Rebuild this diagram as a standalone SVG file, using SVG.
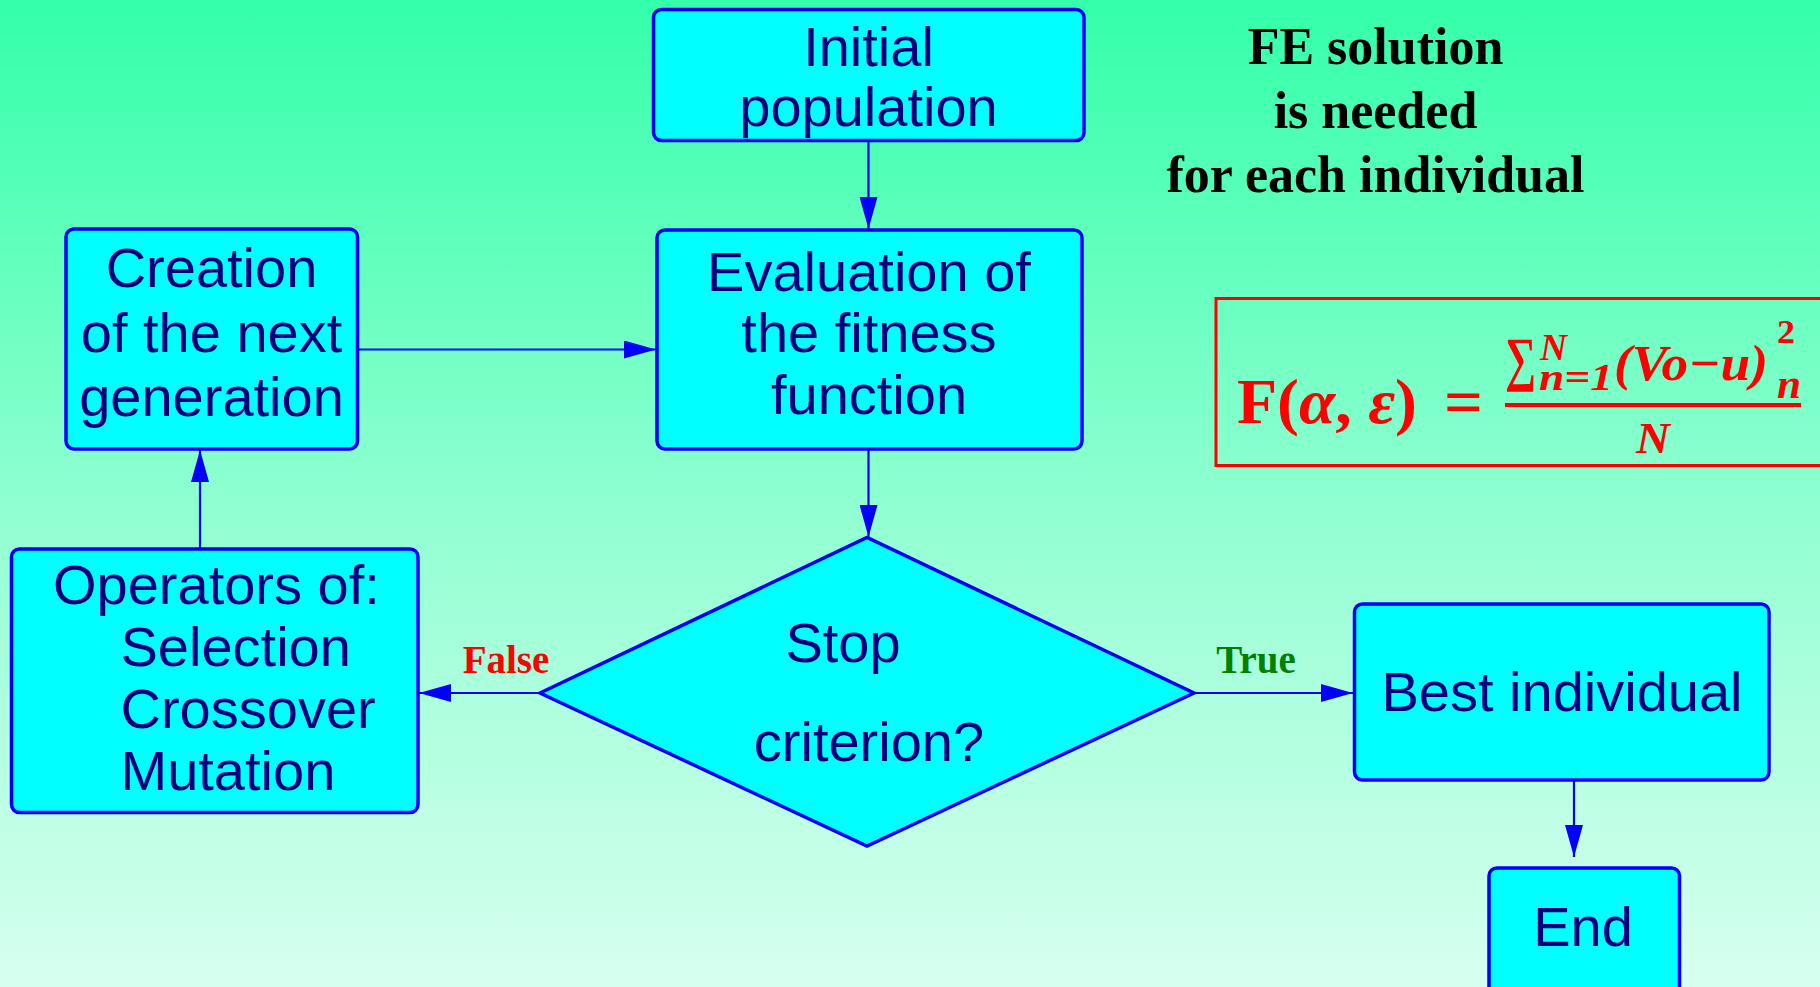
<svg xmlns="http://www.w3.org/2000/svg" width="1820" height="987" viewBox="0 0 1820 987">
  <defs>
    <linearGradient id="bg" x1="0" y1="0" x2="0" y2="1">
      <stop offset="0" stop-color="#33FFAA"/>
      <stop offset="0.5" stop-color="#8EFFD0"/>
      <stop offset="1" stop-color="#D8FFF0"/>
    </linearGradient>
    <marker id="arr" viewBox="0 0 32 18" refX="32" refY="9" markerWidth="32" markerHeight="18" markerUnits="userSpaceOnUse" orient="auto">
      <path d="M0,0 L32,9 L0,18 Z" fill="#0000FF"/>
    </marker>
  </defs>
  <style>
    .box { fill: #00FFFF; stroke: #0000FF; stroke-width: 3.5; }
    .t { font-family: "Liberation Sans", Arial, sans-serif; font-size: 56px; fill: #000080; }
    .c { text-anchor: middle; }
    .conn { stroke: #0000FF; stroke-width: 2.2; fill: none; marker-end: url(#arr); }
    .lbl { font-family: "Liberation Serif", "Times New Roman", serif; font-weight: bold; font-size: 39px; }
    .fe { font-family: "Liberation Serif", "Times New Roman", serif; font-weight: bold; font-size: 52px; fill: #000000; text-anchor: middle; }
    .m { font-family: "Liberation Serif", "DejaVu Serif", serif; font-weight: bold; fill: #FF0000; }
  </style>
  <rect x="0" y="0" width="1820" height="987" fill="url(#bg)"/>

  <g id="connectors">
    <line class="conn" x1="868.5" y1="141" x2="868.5" y2="229"/>
    <line class="conn" x1="868.5" y1="450" x2="868.5" y2="537"/>
    <line class="conn" x1="358" y1="349.5" x2="656" y2="349.5"/>
    <line class="conn" x1="200" y1="549" x2="200" y2="450"/>
    <line class="conn" x1="540" y1="693" x2="419" y2="693"/>
    <line class="conn" x1="1194" y1="693" x2="1353" y2="693"/>
    <line class="conn" x1="1574" y1="781" x2="1574" y2="857"/>
    <text class="lbl" x="506" y="673" fill="#FF0000" text-anchor="middle">False</text>
    <text class="lbl" x="1256" y="673" fill="#008000" text-anchor="middle">True</text>
  </g>

  <g id="initial">
    <rect class="box" x="653.5" y="9.5" width="430.5" height="131" rx="8"/>
    <text class="t c" x="868.5" y="66">Initial</text>
    <text class="t c" x="868.5" y="126">population</text>
  </g>

  <g id="evaluation">
    <rect class="box" x="657" y="230" width="425" height="219" rx="8"/>
    <text class="t c" x="869" y="291">Evaluation of</text>
    <text class="t c" x="869" y="352">the fitness</text>
    <text class="t c" x="869" y="414">function</text>
  </g>

  <g id="creation">
    <rect class="box" x="66" y="229" width="291.5" height="220" rx="8"/>
    <text class="t c" x="211.5" y="287">Creation</text>
    <text class="t c" x="211.5" y="352">of the next</text>
    <text class="t c" x="211.5" y="416">generation</text>
  </g>

  <g id="operators">
    <rect class="box" x="11.5" y="549" width="406.5" height="263.5" rx="8"/>
    <text class="t" x="53" y="604">Operators of:</text>
    <text class="t" x="120.5" y="666">Selection</text>
    <text class="t" x="120.5" y="728">Crossover</text>
    <text class="t" x="120.5" y="790">Mutation</text>
  </g>

  <g id="stop">
    <polygon class="box" points="540,693 867,537.5 1194,693 867,846"/>
    <text class="t c" x="843" y="662">Stop</text>
    <text class="t c" x="869" y="761">criterion?</text>
  </g>

  <g id="best">
    <rect class="box" x="1354.5" y="604" width="414.5" height="176" rx="8"/>
    <text class="t c" x="1562" y="711">Best individual</text>
  </g>

  <g id="end">
    <rect class="box" x="1489" y="868" width="190.5" height="130" rx="8"/>
    <text class="t c" x="1583" y="946">End</text>
  </g>

  <g id="fe-note">
    <text class="fe" x="1375.5" y="64">FE solution</text>
    <text class="fe" x="1375.5" y="128">is needed</text>
    <text class="fe" x="1375.5" y="192">for each individual</text>
  </g>

  <g id="formula">
    <rect x="1216" y="298.5" width="620" height="167" fill="none" stroke="#FF0000" stroke-width="3"/>
    <text class="m" x="1237" y="423" font-size="63" textLength="180" lengthAdjust="spacingAndGlyphs">F(<tspan font-style="italic">α</tspan>, <tspan font-style="italic">ε</tspan>)</text>
    <text class="m" x="1444" y="424" font-size="66" textLength="39" lengthAdjust="spacingAndGlyphs">=</text>
    <line x1="1505" y1="405" x2="1801" y2="405" stroke="#FF0000" stroke-width="4"/>
    <text class="m" x="1505" y="379" font-size="60" textLength="31" lengthAdjust="spacingAndGlyphs">∑</text>
    <text class="m" x="1540" y="360" font-size="38" font-style="italic" textLength="27" lengthAdjust="spacingAndGlyphs">N</text>
    <text class="m" x="1539" y="390" font-size="38" font-style="italic" textLength="74" lengthAdjust="spacingAndGlyphs">n=1</text>
    <text class="m" x="1614" y="380" font-size="50" font-style="italic" textLength="154" lengthAdjust="spacingAndGlyphs">(Vo−u)</text>
    <text class="m" x="1777" y="343" font-size="34" textLength="18" lengthAdjust="spacingAndGlyphs">2</text>
    <text class="m" x="1777" y="398" font-size="40" font-style="italic" textLength="24" lengthAdjust="spacingAndGlyphs">n</text>
    <text class="m" x="1636" y="453" font-size="44" font-style="italic" textLength="34" lengthAdjust="spacingAndGlyphs">N</text>
  </g>
</svg>
